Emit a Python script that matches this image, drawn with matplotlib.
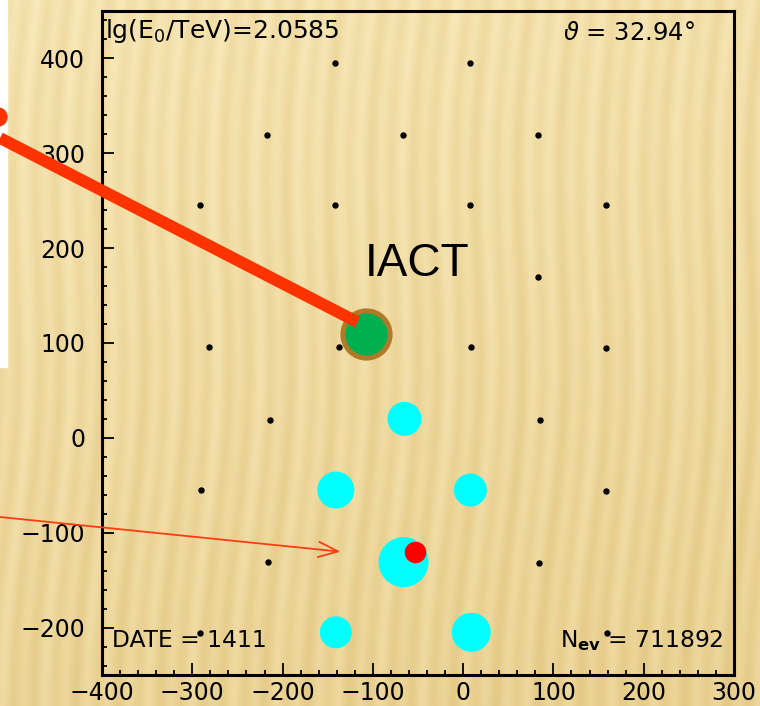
import numpy as np
import matplotlib
matplotlib.use("Agg")
import matplotlib.pyplot as plt
from matplotlib.patches import Rectangle, Circle, ConnectionPatch

# telescope grid positions (m)
grid_x = [-142, 8, -217, -67, 83, -292, -142, 8, 158, 83,
          -282, -137, 9, 158, -214, 85, -290, 158, -216, 84, -291, 159]
grid_y = [395, 395, 319, 319, 319, 245, 245, 245, 245, 170,
          96, 96, 96, 95, 19, 19, -55, -56, -131, -132, -206, -206]

# triggered stations and their signal (drawn as circle radius)
hit_x = [-65, -141, 8, -66, -141, 9]
hit_y = [20, -55, -55, -131, -205, -205]
hit_amp = [17, 18.5, 16.5, 25, 16, 19.5]

# shower core and IACT position
core_x, core_y = -53, -120
iact_x, iact_y = -108, 109

lg_e0 = 2.0585
theta = 32.94
date = 1411
n_ev = 711892

W, H = 760, 706
fig = plt.figure(figsize=(W / 100, H / 100), dpi=100)

# paper-like striped backdrop
bg = fig.add_axes([0, 0, 1, 1])
yy, xx = np.mgrid[0:H, 0:W]
wave = xx + 7 * np.sin(yy / 85.0) + 0.04 * yy
stripes = 0.5 + 0.5 * np.sin(2 * np.pi * wave / 21.0)
stripes = 0.7 * stripes + 0.3 * (0.5 + 0.5 * np.sin(2 * np.pi * wave / 47.0))
t = 0.4 * stripes + 0.45 * (yy / H) + 0.1 * (xx / W)
light = np.array([0.975, 0.915, 0.730])
dark = np.array([0.890, 0.780, 0.510])
tex = light * (1 - t[..., None]) + dark * t[..., None]
bg.imshow(tex, aspect="auto", extent=[0, W, H, 0], interpolation="bilinear")
bg.add_patch(Rectangle((0, 0), 7, 367, color="white", zorder=2))
bg.set_xlim(0, W)
bg.set_ylim(H, 0)
bg.axis("off")

ax = fig.add_axes([102 / W, 31 / H, 632 / W, 664 / H])
ax.patch.set_alpha(0)
ax.set_xlim(-400, 300)
ax.set_ylim(-250, 450)
ax.set_xticks(np.arange(-400, 301, 100))
ax.set_yticks(np.arange(-200, 401, 100))
ax.set_xticks(np.arange(-400, 301, 20), minor=True)
ax.set_yticks(np.arange(-240, 441, 20), minor=True)
ax.tick_params(which="both", direction="in", top=False, right=False,
               labelsize=17, width=1.3, colors="black")
ax.tick_params(which="major", length=8.5)
ax.tick_params(which="minor", length=3.8)
ax.tick_params(axis="y", pad=12)
ax.tick_params(axis="x", pad=4)
for sp in ax.spines.values():
    sp.set_linewidth(2.2)

ax.plot(grid_x, grid_y, "o", color="black", markersize=3.6, zorder=3)

sizes = [(2 * a * 0.72) ** 2 for a in hit_amp]
ax.scatter(hit_x, hit_y, s=sizes, color="#00ffff", edgecolors="none", zorder=4)
ax.plot(core_x, core_y, "o", color="#ff0000", markersize=15.5,
        markeredgewidth=0, zorder=5)

ax.plot(iact_x, iact_y, "o", color="#00b050", markersize=34,
        markeredgecolor="#b07a28", markeredgewidth=3.6, zorder=5)
ax.text(0.416, 0.601, "IACT", transform=ax.transAxes, fontsize=33,
        family="Liberation Sans", va="baseline", ha="left")

# pointer from the left side to the IACT
pointer = ConnectionPatch(xyA=(0, H - 138), coordsA="figure pixels",
                          xyB=(iact_x - 9, iact_y + 13), coordsB="data",
                          axesA=ax, axesB=ax,
                          color="#ff3300", linewidth=8.5, capstyle="butt",
                          zorder=6)
fig.add_artist(pointer)
fig.add_artist(Circle((-2, H - 117), 9, transform=None, color="#ff3300",
                      zorder=6))

arrow = ConnectionPatch(xyA=(0, H - 517), coordsA="figure pixels",
                        xyB=(-136, -120), coordsB="data",
                        axesA=ax, axesB=ax,
                        arrowstyle="->,head_length=1.4,head_width=0.55",
                        color="#ff3b10", linewidth=1.3, zorder=6)
fig.add_artist(arrow)

ax.text(0.005, 0.959, r"lg(E$_0$/TeV)=%.4f" % lg_e0, transform=ax.transAxes,
        fontsize=18, va="baseline", ha="left")
ax.text(0.938, 0.956, r"$\vartheta$ = %.2f°" % theta, transform=ax.transAxes,
        fontsize=17.5, va="baseline", ha="right")
ax.text(0.016, 0.042, "DATE = %d" % date, transform=ax.transAxes,
        fontsize=16.8, va="baseline", ha="left")
ax.text(0.983, 0.042, r"N$_{\mathbf{ev}}$ = %d" % n_ev, transform=ax.transAxes,
        fontsize=16.8, va="baseline", ha="right")

fig.savefig("out.png", dpi=100)
